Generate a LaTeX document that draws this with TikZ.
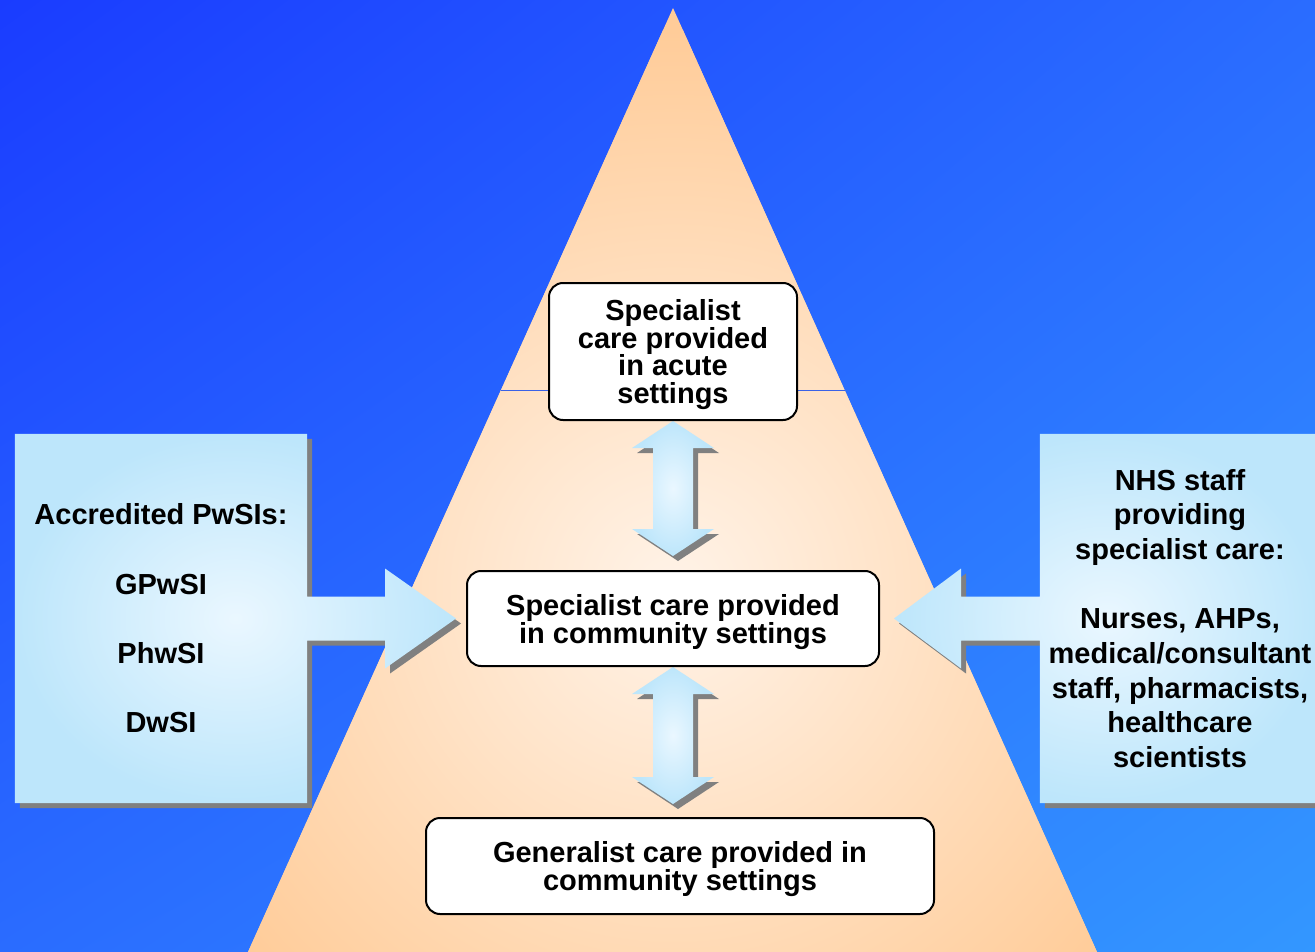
\documentclass[tikz,border=0pt]{standalone}
\usepackage{fontspec}
\setmainfont{Liberation Sans}
\usepackage{xcolor}
\usetikzlibrary{positioning}
\usetikzlibrary{calc}
\usetikzlibrary{shadings}
\pgfdeclarelayer{bg}
\pgfsetlayers{bg,main}

\definecolor{bgtl}{HTML}{1A3CFF}
\definecolor{bgtr}{HTML}{2A6CFF}
\definecolor{bgbl}{HTML}{2A6CFF}
\definecolor{bgbr}{HTML}{3397FF}
\definecolor{peach}{HTML}{FFCC99}
\definecolor{peachlight}{HTML}{FFF3E8}
\definecolor{panelout}{HTML}{BDE6FB}
\definecolor{panelin}{HTML}{EAF7FF}
\definecolor{shadowgray}{HTML}{808080}
\definecolor{splitline}{HTML}{3A62E6}

\tikzset{
  carebox/.style={draw=black, line width=2pt, fill=white, rounded corners=14pt, align=center, inner sep=0pt, text depth=0pt, font=\bfseries\fontsize{29}{28}\selectfont},
  paneltext/.style={align=center, inner sep=0pt, font=\bfseries\fontsize{29}{34.7}\selectfont},
  panelshade/.style={shade, inner color=panelin, outer color=panelout},
  shadowfill/.style={fill=shadowgray, transform canvas={shift={(5,5)}}}
}

% outline of the two call-outs and of the up/down arrows
\newcommand{\leftcallout}{(pwsi.north west) -- (pwsi.north east) -- ($(pwsi.east)+(0,-22)$) -- ($(comm.west)+(-81,-22)$) -- ++(0,-28) -- ($(comm.west)+(-10,0)$) -- ++(-71,50) -- ++(0,-28) -- ($(pwsi.east)+(0,22)$) -- (pwsi.south east) -- (pwsi.south west) -- cycle}
\newcommand{\rightcallout}{(nhs.north east) -- (nhs.north west) -- ($(nhs.west)+(0,-22)$) -- ($(comm.east)+(81,-22)$) -- ++(0,-28) -- ($(comm.east)+(14,0)$) -- ++(67,50) -- ++(0,-28) -- ($(nhs.west)+(0,22)$) -- (nhs.south west) -- (nhs.south east) -- cycle}
\newcommand{\twowayarrow}[2]{(#1) -- ++(41,27) -- ++(-21,0) -- ($(#2)+(20,-27)$) -- ++(21,0) -- (#2) -- ++(-41,-27) -- ++(21,0) -- ($(#1)+(-20,27)$) -- ++(-21,0) -- cycle}

\begin{document}
\begin{tikzpicture}[x=1pt,y=-1pt]
	\useasboundingbox (0,0) rectangle (1315,952);
	
	% pyramid corners
	\coordinate (apex) at (673,8);
	\coordinate (baseL) at (248,952);
	\coordinate (baseR) at (1097,952);
	
	% care levels
	\node[carebox, minimum width=248pt, minimum height=137pt, font=\bfseries\fontsize{29}{27.5}\selectfont] (acute) at (673,351.5) {Specialist\\care provided\\in acute\\settings};
	\node[carebox, minimum width=412pt, minimum height=95pt] (comm) at (673,618.5) {Specialist care provided\\in community settings};
	\node[carebox, minimum width=508pt, minimum height=96pt] (gen) at (680,866) {Generalist care provided in\\community settings};
	
	% side panels
	\node[paneltext, minimum width=292pt, minimum height=369pt] (pwsi) at (161,618.5) {Accredited PwSIs:\\[34.7pt]GPwSI\\[34.7pt]PhwSI\\[34.7pt]DwSI};
	\node[paneltext, minimum width=280pt, minimum height=369pt] (nhs) at (1180,618.5) {NHS staff\\providing\\specialist care:\\[34.7pt]Nurses, AHPs,\\medical/consultant\\staff, pharmacists,\\healthcare\\scientists};
	
	% arrow ends
	\coordinate (up1) at (acute.south);
	\coordinate (down1) at ($(comm.north)+(0,-14)$);
	\coordinate (up2) at (comm.south);
	\coordinate (down2) at ($(comm.south |- gen.north)+(0,-13)$);
	
	\begin{pgfonlayer}{bg}
		\clip (0,0) rectangle (1315,952);
		% background
		\shade[upper left=bgtl, upper right=bgtr, lower left=bgbl, lower right=bgbr] (0,0) rectangle (1315,952);
		
		% pyramid
		\fill[peach] (apex) -- (baseL) -- (baseR) -- cycle;
		\begin{scope}
			\clip (apex) -- (baseL) -- (baseR) -- cycle;
			\shade[inner color=peachlight, outer color=peach] (673,590) circle (560pt);
		\end{scope}
		\draw[splitline, line width=1pt] ($(apex)!0.4057!(baseL)$) -- ($(apex)!0.4057!(baseR)$);
		
		% call-outs
		\path[shadowfill] \leftcallout;
		\path[panelshade] \leftcallout;
		\path[shadowfill] \rightcallout;
		\path[panelshade] \rightcallout;
		
		% up/down arrows
		\path[shadowfill] \twowayarrow{up1}{down1};
		\path[panelshade] \twowayarrow{up1}{down1};
		\path[shadowfill] \twowayarrow{up2}{down2};
		\path[panelshade] \twowayarrow{up2}{down2};
	\end{pgfonlayer}
\end{tikzpicture}
\end{document}
